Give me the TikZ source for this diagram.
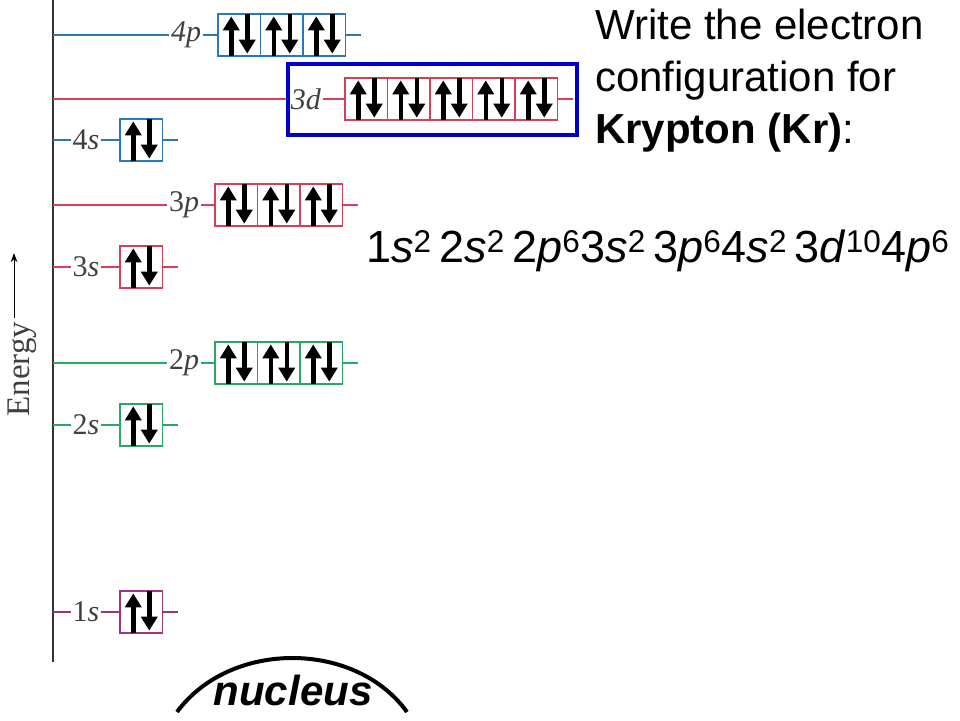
\documentclass[tikz,border=0pt]{standalone}
\usepackage{fontspec}
\setsansfont{Liberation Sans}
\newfontfamily\labfont{Liberation Serif}
\usetikzlibrary{arrows.meta}
\definecolor{cblue}{RGB}{40,120,190}
\definecolor{cred}{RGB}{220,60,85}
\definecolor{cgreen}{RGB}{40,170,100}
\definecolor{cplum}{RGB}{160,50,130}
\definecolor{hilite}{RGB}{0,0,200}
\newcommand\subsh[3]{#1\textit{#2}\textsuperscript{#3}}
\newcommand\level[7]{%
  \coordinate (#1a) at (53,#2);
  \node[lab] (#1l) at (#4,#2) {#3};
  \draw[lvl,#7] (#1a) -- (#1l.west);
  \foreach \i in {1,...,#6} {
    \node[cell,draw=#7] (#1c\i) at ({#5+42.5*\i-21.25},#2) {};
    \draw[spin] ([xshift=-8pt,yshift=1pt]#1c\i.south) -- ([xshift=-8pt,yshift=-3pt]#1c\i.north);
    \draw[spin] ([xshift=8pt,yshift=-1pt]#1c\i.north) -- ([xshift=8pt,yshift=3pt]#1c\i.south);
  }
  \draw[lvl,#7] (#1l.east) -- (#1c1.west);
  \coordinate (#1t) at ({#5+42.5*#6+15},#2);
  \draw[lvl,#7] (#1c#6.east) -- (#1t);
}
\begin{document}
\begin{tikzpicture}[x=1pt,y=-1pt,
  lvl/.style={line width=1.3},
  lab/.style={inner sep=1.5pt, text=black!75, font=\labfont\fontsize{30}{30}\selectfont},
  cell/.style={line width=1.3, minimum width=42.5, minimum height=42, inner sep=0},
  spin/.style={line width=4.5, -{Triangle[width=16,length=14]}}]
  \useasboundingbox (0,0) rectangle (960,720);

  % axis and energy label
  \coordinate (top) at (53,0);
  \coordinate (bot) at (53,662);
  \draw[line width=1.3, black!80] (top) -- (bot);
  \node[rotate=90, text=black!75, font=\labfont\fontsize{33}{33}\selectfont] (en) at (22,369) {Energy};
  \draw[line width=1, -{Stealth[length=9]}] ([xshift=-8pt]en.east) -- ++(0,-65);

  % orbitals
  \level{fourp}{35}{\textit{4p}}{186}{218}{3}{cblue}
  \level{threed}{99}{\textit{3d}}{306}{345}{5}{cred}
  \level{fours}{140}{4\textit{s}}{86}{120}{1}{cblue}
  \level{threep}{205}{3\textit{p}}{184}{215}{3}{cred}
  \level{threes}{267}{3\textit{s}}{86}{120}{1}{cred}
  \level{twop}{363}{2\textit{p}}{184}{215}{3}{cgreen}
  \level{twos}{425}{2\textit{s}}{86}{120}{1}{cgreen}
  \level{ones}{612}{1\textit{s}}{86}{120}{1}{cplum}
  \draw[line width=4, hilite] (288,64) rectangle (577,135);

  % question
  \node[anchor=north west, align=left, inner sep=0, font=\sffamily\fontsize{42}{52}\selectfont] (ask) at (595,9)
    {Write the electron\\configuration for\\\textbf{Krypton (Kr)}:};
  \node[anchor=base west, inner sep=0, font=\sffamily\fontsize{45}{45}\selectfont] (config) at (366,262)
    {\subsh{1}{s}{2}\,\subsh{2}{s}{2}\,\subsh{2}{p}{6}\subsh{3}{s}{2}\,\subsh{3}{p}{6}\subsh{4}{s}{2}\,\subsh{3}{d}{10}\subsh{4}{p}{6}};

  % nucleus
  \coordinate (nl) at (177,712);
  \coordinate (nr) at (407,712);
  \draw[line width=4] (nl) .. controls (230,640) and (355,640) .. (nr);
  \node[font=\sffamily\bfseries\itshape\fontsize{42}{42}\selectfont] (nuc) at (293,690) {nucleus};
\end{tikzpicture}
\end{document}
